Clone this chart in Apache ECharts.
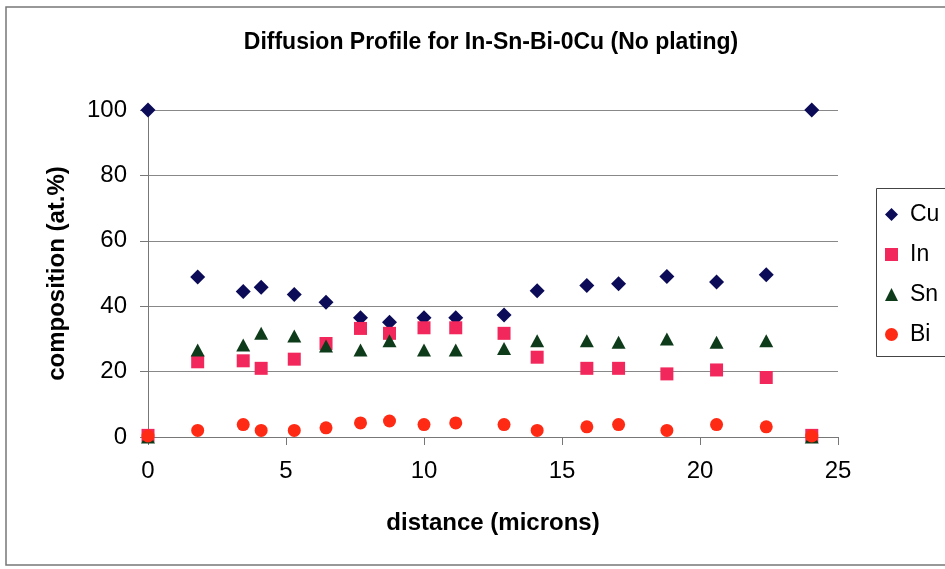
<!DOCTYPE html>
<html>
<head>
<meta charset="utf-8">
<script src="https://cdn.jsdelivr.net/npm/echarts@6/dist/echarts.min.js"></script>
<style>
  html, body { margin: 0; padding: 0; background: #ffffff; }
  #chart { width: 945px; height: 569px; }
</style>
</head>
<body>
<div id="chart"></div>
<script>
// Measurement positions along the joint (microns)
const distance = [0, 1.8, 3.45, 4.1, 5.3, 6.45, 7.7, 8.75, 10.0, 11.15, 12.9, 14.1, 15.9, 17.05, 18.8, 20.6, 22.4, 24.05];

// Composition at each position (at.%)
const cu = [100, 48.9, 44.5, 45.8, 43.6, 41.2, 36.5, 35.1, 36.5, 36.5, 37.3, 44.7, 46.3, 46.9, 49.1, 47.4, 49.6, 100];
const inn = [0.5, 23.0, 23.3, 21.0, 23.8, 28.6, 33.2, 31.7, 33.4, 33.4, 31.7, 24.4, 21.0, 21.0, 19.3, 20.5, 18.2, 0.5];
const sn = [0, 26.6, 28.1, 31.7, 30.9, 27.8, 26.6, 29.4, 26.6, 26.6, 27.1, 29.4, 29.4, 29.0, 30.0, 29.0, 29.4, 0];
const bi = [0.3, 2.0, 3.8, 2.0, 2.0, 2.8, 4.3, 4.9, 3.8, 4.3, 3.8, 2.0, 3.1, 3.8, 2.0, 3.8, 3.1, 0.3];

const seriesNames = ['Cu', 'In', 'Sn', 'Bi'];
const xTicks = [0, 5, 10, 15, 20, 25];
const yTicks = [0, 20, 40, 60, 80, 100];

const FONT = '"Liberation Sans", Arial, sans-serif';

function pairs(ys) {
  return distance.map((x, i) => [x, ys[i]]);
}

const chart = echarts.init(document.getElementById('chart'), null, { renderer: 'canvas' });

chart.setOption({
  backgroundColor: '#ffffff',
  animation: false,
  textStyle: { fontFamily: FONT, color: '#000' },
  title: {
    text: 'Diffusion Profile for In-Sn-Bi-0Cu (No plating)',
    left: 486,
    top: 26,
    textAlign: 'center',
    textStyle: { fontFamily: FONT, fontSize: 23, fontWeight: 'bold', color: '#000' }
  },
  graphic: [
    {
      // outer chart frame, running past the right edge of the page
      type: 'rect',
      shape: { x: 6, y: 7, width: 1000, height: 558 },
      style: { fill: 'none', stroke: '#777', lineWidth: 1.5 },
      silent: true,
      z: -1
    },
    {
      // legend frame, also open to the right
      type: 'rect',
      shape: { x: 876.5, y: 188.5, width: 200, height: 168 },
      style: { fill: '#fff', stroke: '#444', lineWidth: 1 },
      silent: true,
      z: 0
    }
  ],
  legend: {
    orient: 'vertical',
    left: 876,
    top: 188,
    padding: [15, 10, 9, 9],
    itemGap: 17,
    itemWidth: 13,
    itemHeight: 13,
    borderWidth: 0,
    z: 5,
    data: seriesNames,
    textStyle: { fontFamily: FONT, fontSize: 23, color: '#000', padding: [0, 0, 0, 7] }
  },
  grid: { left: 148, right: 107, top: 110, bottom: 132 },
  xAxis: {
    type: 'value',
    min: xTicks[0],
    max: xTicks[xTicks.length - 1],
    interval: 5,
    name: 'distance (microns)',
    nameLocation: 'middle',
    nameGap: 74,
    nameTextStyle: { fontFamily: FONT, fontSize: 24, fontWeight: 'bold', color: '#000' },
    axisLine: { show: true, onZero: false, lineStyle: { color: '#777', width: 1 } },
    axisTick: { show: true, inside: false, length: 8, lineStyle: { color: '#777' } },
    axisLabel: { margin: 22, fontFamily: FONT, fontSize: 24, color: '#000' },
    splitLine: { show: false }
  },
  yAxis: {
    type: 'value',
    min: yTicks[0],
    max: yTicks[yTicks.length - 1],
    interval: 20,
    name: 'composition (at.%)',
    nameLocation: 'middle',
    nameGap: 79,
    nameTextStyle: { fontFamily: FONT, fontSize: 24, fontWeight: 'bold', color: '#000' },
    axisLine: { show: true, lineStyle: { color: '#777', width: 1 } },
    axisTick: { show: true, inside: false, length: 8, lineStyle: { color: '#777' } },
    axisLabel: { margin: 21, fontFamily: FONT, fontSize: 24, color: '#000' },
    splitLine: { show: true, lineStyle: { color: '#888', width: 1 } }
  },
  series: [
    {
      name: 'Cu', type: 'scatter', data: pairs(cu),
      symbol: 'diamond', symbolSize: 15,
      itemStyle: { color: '#0b0b58', opacity: 1 }
    },
    {
      name: 'In', type: 'scatter', data: pairs(inn),
      symbol: 'rect', symbolSize: 13,
      itemStyle: { color: '#f2285c', opacity: 1 }
    },
    {
      name: 'Sn', type: 'scatter', data: pairs(sn),
      symbol: 'triangle', symbolSize: [14, 13],
      itemStyle: { color: '#0e3b1a', opacity: 1 }
    },
    {
      name: 'Bi', type: 'scatter', data: pairs(bi),
      symbol: 'circle', symbolSize: 13,
      itemStyle: { color: '#ff2a14', opacity: 1 }
    }
  ]
});
</script>
</body>
</html>
